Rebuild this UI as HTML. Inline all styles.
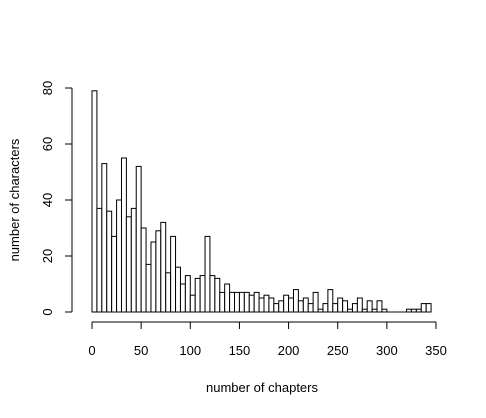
<!DOCTYPE html>
<html><head><meta charset="utf-8"><style>
body{margin:0;background:#fff}
svg{display:block;font-family:"Liberation Sans",Arial,sans-serif}
</style></head><body>
<svg id="chart" width="486" height="418" viewBox="0 0 486 418">
<g id="bars"></g>
<g id="axes"></g>
</svg>
<script>
const binWidth = 5;
const counts = [79,37,53,36,27,40,55,34,37,52,30,17,25,29,32,14,27,16,10,13,6,12,13,27,13,12,7,10,7,7,7,7,6,7,5,6,5,3,4,6,5,8,4,5,3,7,1,3,8,3,5,4,1,3,5,1,4,1,4,1,0,0,0,0,1,1,1,3,3];
const xTicks = [0,50,100,150,200,250,300,350];
const yTicks = [0,20,40,60,80];
const NS = "http://www.w3.org/2000/svg";
function xs(v){return 92 + v*(436-92)/350;}
function ys(v){return 312 - v*(312-88)/80;}
function mk(tag, attrs, parent){const e=document.createElementNS(NS,tag);for(const k in attrs)e.setAttribute(k,attrs[k]);parent.appendChild(e);return e;}
const bars=document.getElementById('bars'), axes=document.getElementById('axes');
counts.forEach((c,i)=>{
  const x0=xs(i*binWidth), x1=xs((i+1)*binWidth);
  let r;
  if(c===0){
    r=mk('line',{x1:x0,x2:x1,y1:ys(0),y2:ys(0),stroke:'#000','stroke-width':1},bars);
  } else {
    r=mk('rect',{x:x0,y:ys(c),width:x1-x0,height:ys(0)-ys(c),fill:'#fff',stroke:'#000','stroke-width':1},bars);
  }
  
  
});
const xl=mk('line',{x1:xs(xTicks[0]),x2:xs(xTicks[xTicks.length-1]),y1:322,y2:322,stroke:'#000'},axes);


xTicks.forEach(t=>{
  mk('line',{x1:xs(t),x2:xs(t),y1:322,y2:329,stroke:'#000'},axes);
  const tx=mk('text',{x:xs(t),y:355,'text-anchor':'middle','font-size':13},axes);
  tx.textContent=t;
  
  
});
const yl=mk('line',{x1:72,x2:72,y1:ys(0),y2:ys(80),stroke:'#000'},axes);


yTicks.forEach(t=>{
  mk('line',{x1:65,x2:72,y1:ys(t),y2:ys(t),stroke:'#000'},axes);
  const tx=mk('text',{x:0,y:0,'text-anchor':'middle','font-size':13,transform:`translate(52,${ys(t)}) rotate(-90)`},axes);
  tx.textContent=t;
  
  
});
const xt=mk('text',{x:262,y:392,'text-anchor':'middle','font-size':13},axes);
xt.textContent='number of chapters';


const yt=mk('text',{x:0,y:0,'text-anchor':'middle','font-size':13,transform:'translate(19,200) rotate(-90)'},axes);
yt.textContent='number of characters';


</script>
</body></html>
